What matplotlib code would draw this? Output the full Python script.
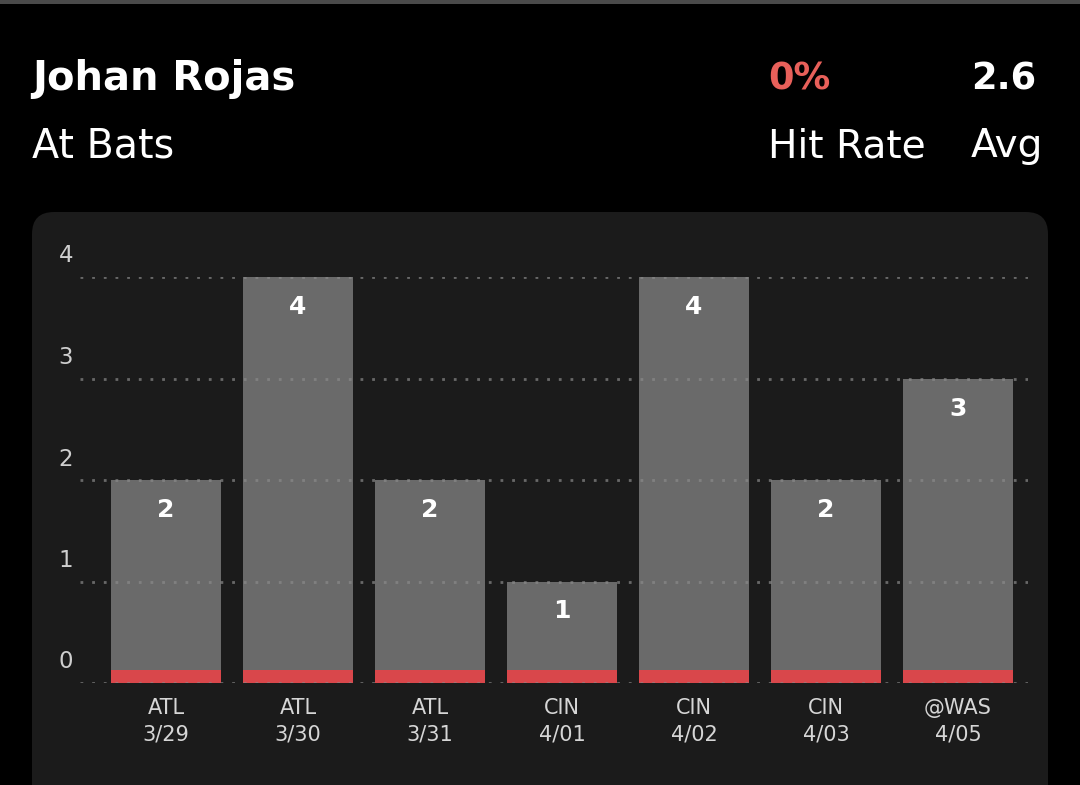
import matplotlib.pyplot as plt
from matplotlib.patches import FancyBboxPatch, Rectangle

# data
opponents = ["ATL", "ATL", "ATL", "CIN", "CIN", "CIN", "@WAS"]
dates = ["3/29", "3/30", "3/31", "4/01", "4/02", "4/03", "4/05"]
at_bats = [2, 4, 2, 1, 4, 2, 3]
hits = [0, 0, 0, 0, 0, 0, 0]
yticks = [0, 1, 2, 3, 4]

player = "Johan Rojas"
stat_name = "At Bats"
hit_rate = "0%"
avg = "2.6"

W, H = 1080, 785
BG = "#000000"
PANEL = "#1b1b1b"
BAR = "#6a6a6a"
RED = "#d9474b"

plt.rcParams["font.family"] = ["DejaVu Sans"]

fig = plt.figure(figsize=(W / 100, H / 100), dpi=100, facecolor=BG)

# background layer in pixel coordinates
bg = fig.add_axes([0, 0, 1, 1])
bg.set_xlim(0, W)
bg.set_ylim(H, 0)
bg.axis("off")
bg.add_patch(Rectangle((0, 0), W, 4, color="#4a4a4a", lw=0))
bg.add_patch(FancyBboxPatch((32, 212), 1016, 640, boxstyle="round,pad=0,rounding_size=22",
                            fc=PANEL, ec="none"))

bg.text(32, 90, player, color="white", fontsize=28.8, fontweight="bold", va="baseline")
bg.text(32, 157, stat_name, color="white", fontsize=28.5, va="baseline")
bg.text(768, 90, hit_rate, color="#e8605a", fontsize=26.5, fontweight="bold", va="baseline")
bg.text(971, 90, avg, color="white", fontsize=26.5, fontweight="bold", va="baseline")
bg.text(768, 157, "Hit Rate", color="white", fontsize=28.2, va="baseline")
bg.text(971, 157, "Avg", color="white", fontsize=28.2, va="baseline")

# chart axes
ax = fig.add_axes([80 / W, (H - 683) / H, (1028 - 80) / W, (683 - 277) / H])
ax.set_facecolor("none")
x = list(range(len(at_bats)))
ax.bar(x, at_bats, width=0.833, color=BAR, zorder=1)
stub = 0.13
ax.bar(x, [max(h, stub) for h in hits], width=0.833, color=RED, zorder=2)
ax.set_xlim(-0.652, 6.53)
ax.set_ylim(0, 4)
for s in ax.spines.values():
    s.set_visible(False)
ax.set_xticks([])
ax.set_yticks([])

for t in yticks:
    ax.axhline(t, color="#8a8a8a", alpha=0.7, lw=2, ls=(0, (1, 3.2)), zorder=3)
    ax.annotate(str(t), xy=(0, t), xycoords=("axes fraction", "data"),
                xytext=(-14, 21), textcoords="offset pixels",
                ha="center", va="center", color="#cfcfcf", fontsize=16.5)

for i, v in enumerate(at_bats):
    ax.annotate(str(v), xy=(i, v), xytext=(0, -30), textcoords="offset pixels",
                ha="center", va="center", color="white", fontsize=18, fontweight="bold")
    ax.annotate(opponents[i], xy=(i, 0), xytext=(0, -25), textcoords="offset pixels",
                ha="center", va="center", color="#d6d6d6", fontsize=15, annotation_clip=False)
    ax.annotate(dates[i], xy=(i, 0), xytext=(0, -52), textcoords="offset pixels",
                ha="center", va="center", color="#d6d6d6", fontsize=15, annotation_clip=False)

fig.savefig("out.png", dpi=100, facecolor=BG)
